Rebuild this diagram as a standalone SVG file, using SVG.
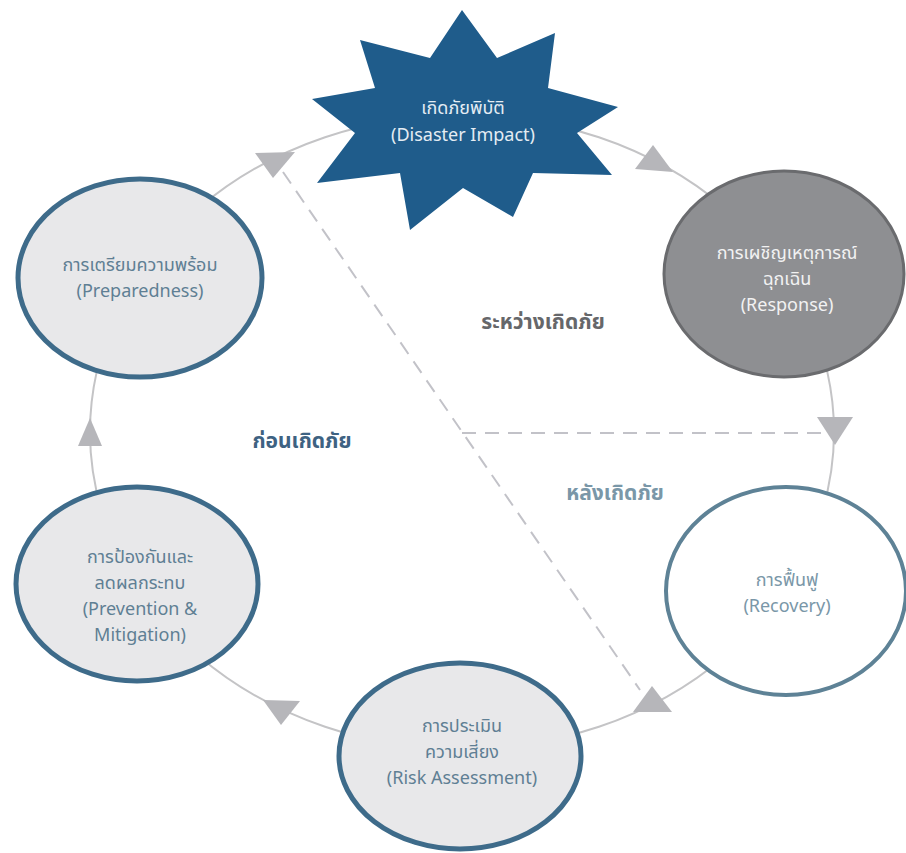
<svg xmlns="http://www.w3.org/2000/svg" width="906" height="853" viewBox="0 0 906 853">
<style>
.t{font-family:"Noto Sans Thai","Open Sans","Noto Sans",sans-serif;font-size:18px;text-anchor:middle}
.lbl{font-family:"Noto Sans Thai","Open Sans","Noto Sans",sans-serif;font-size:21px;font-weight:bold;text-anchor:middle}
.cyc{fill:none;stroke:#C4C4C6;stroke-width:2}
.dash{fill:none;stroke:#C2C2C8;stroke-width:2;stroke-dasharray:14 9}
.ah{fill:#B6B6BA}
</style>
<rect width="906" height="853" fill="#FFFFFF"/>
<g id="connectors">
<ellipse class="cyc" cx="462" cy="432" rx="372" ry="317"/>
<line class="dash" x1="283" y1="172" x2="640" y2="690"/>
<line class="dash" x1="462" y1="433" x2="832" y2="433"/>
<polygon class="ah" points="255,153 295,152 273,178"/>
<polygon class="ah" points="653,145 635,169 673,172"/>
<polygon class="ah" points="817,417 853,417 835,445"/>
<polygon class="ah" points="652,686 633,712 672,712"/>
<polygon class="ah" points="263,700 300,701 281,725"/>
<polygon class="ah" points="78,446 102,446 90,418"/>
</g>
<g id="disaster">
<polygon fill="#1F5C8B" points="462,10 497,58 555,33 548,88 618,107 577,133 612,175 533,173 513,217 463,188 410,230 400,173 317,183 355,133 312,99 375,88 360,40 430,58"/>
<text class="t" x="463" y="114" fill="#E4ECF3">เกิดภัยพิบัติ</text>
<text class="t" x="463" y="141" fill="#E4ECF3">(Disaster Impact)</text>
</g>
<g id="response">
<ellipse cx="784" cy="274" rx="120" ry="103" fill="#8E8F92" stroke="#6A6B6E" stroke-width="3"/>
<text class="t" x="787" y="259" fill="#F2F2F2">การเผชิญเหตุการณ์</text>
<text class="t" x="787" y="285" fill="#F2F2F2">ฉุกเฉิน</text>
<text class="t" x="787" y="311" fill="#F2F2F2">(Response)</text>
</g>
<g id="recovery">
<ellipse cx="786" cy="591" rx="120" ry="104" fill="#FFFFFF" stroke="#5E8296" stroke-width="4"/>
<text class="t" x="787" y="586" fill="#7A97A8">การฟื้นฟู</text>
<text class="t" x="787" y="612" fill="#7A97A8">(Recovery)</text>
</g>
<g id="risk">
<ellipse cx="460" cy="756" rx="121" ry="93" fill="#E8E8EA" stroke="#3E6B8A" stroke-width="5"/>
<text class="t" x="462" y="732" fill="#5F7F94">การประเมิน</text>
<text class="t" x="462" y="758" fill="#5F7F94">ความเสี่ยง</text>
<text class="t" x="462" y="784" fill="#5F7F94">(Risk Assessment)</text>
</g>
<g id="prevention">
<ellipse cx="137" cy="584" rx="121" ry="97" fill="#E8E8EA" stroke="#3E6B8A" stroke-width="5"/>
<text class="t" x="140" y="563" fill="#5F7F94">การป้องกันและ</text>
<text class="t" x="140" y="589" fill="#5F7F94">ลดผลกระทบ</text>
<text class="t" x="140" y="615" fill="#5F7F94">(Prevention &amp;</text>
<text class="t" x="140" y="641" fill="#5F7F94">Mitigation)</text>
</g>
<g id="preparedness">
<ellipse cx="140" cy="278" rx="122" ry="99" fill="#E8E8EA" stroke="#3E6B8A" stroke-width="5"/>
<text class="t" x="140" y="271" fill="#5F7F94">การเตรียมความพร้อม</text>
<text class="t" x="140" y="297" fill="#5F7F94">(Preparedness)</text>
</g>
<g id="labels">
<text class="lbl" x="543" y="329" fill="#66676A">ระหว่างเกิดภัย</text>
<text class="lbl" x="302" y="448" fill="#3E6282">ก่อนเกิดภัย</text>
<text class="lbl" x="615" y="500" fill="#7A97A8">หลังเกิดภัย</text>
</g>
</svg>
